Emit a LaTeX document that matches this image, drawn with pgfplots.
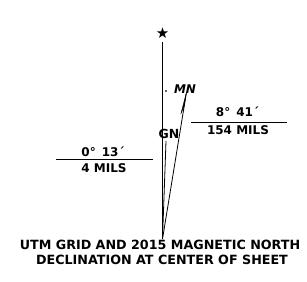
\documentclass[border=0pt]{standalone}
\usepackage{pgfplots}
\pgfplotsset{compat=1.18}
\usepackage{fontspec}
\setmainfont{DejaVu Sans}
\newfontfamily\symfont{DejaVu Sans}
\begin{document}
\begin{tikzpicture}
\begin{axis}[
  scale only axis, width=307pt, height=281pt,
  xmin=0, xmax=307, ymin=0, ymax=281, y dir=reverse,
  axis lines=none, ticks=none, clip=false,
]
\path[draw=none] (axis cs:0,0) rectangle (axis cs:307,281);
% true north line
\addplot[black, line width=0.8pt] coordinates {(162.5,239) (162.5,42)};
% grid north
\addplot[black, line width=0.8pt] coordinates {(162.5,239) (166,141)};
% magnetic north
\addplot[black, line width=0.8pt] coordinates {(162.5,239) (186.5,92)};
% half arrow
\addplot[black, fill=black, line width=0.3pt] coordinates {(186.5,92) (180.8,114) (184.3,106) (186.5,92)};
% dot
\addplot[only marks, mark=*, mark size=0.7pt, black] coordinates {(166,91)};
% fraction rules
\addplot[black, line width=0.8pt] coordinates {(56,159) (153,159)};
\addplot[black, line width=0.8pt] coordinates {(191,122) (287,122)};
\node[font=\fontsize{15}{15}\selectfont] at (axis cs:162.5,33) {\symfont ★};
\node[font=\bfseries\itshape\fontsize{12}{12}\selectfont] at (axis cs:185,89) {MN};
\node[font=\bfseries\fontsize{12.5}{12}\selectfont] at (axis cs:169,134) {GN};
\node[font=\bfseries\fontsize{12}{12}\selectfont] at (axis cs:103,152) {0°\hspace{6pt}13´};
\node[font=\bfseries\fontsize{12}{12}\selectfont] at (axis cs:104,168) {4 MILS};
\node[font=\bfseries\fontsize{12}{12}\selectfont] at (axis cs:237.5,112) {8°\hspace{6pt}41´};
\node[font=\bfseries\fontsize{12}{12}\selectfont] at (axis cs:238,130) {154 MILS};
\node[font=\bfseries\fontsize{12.7}{12}\selectfont] at (axis cs:160,245) {UTM GRID AND 2015 MAGNETIC NORTH};
\node[font=\bfseries\fontsize{12.7}{12}\selectfont] at (axis cs:162,260) {DECLINATION AT CENTER OF SHEET};
\end{axis}
\end{tikzpicture}
\end{document}
